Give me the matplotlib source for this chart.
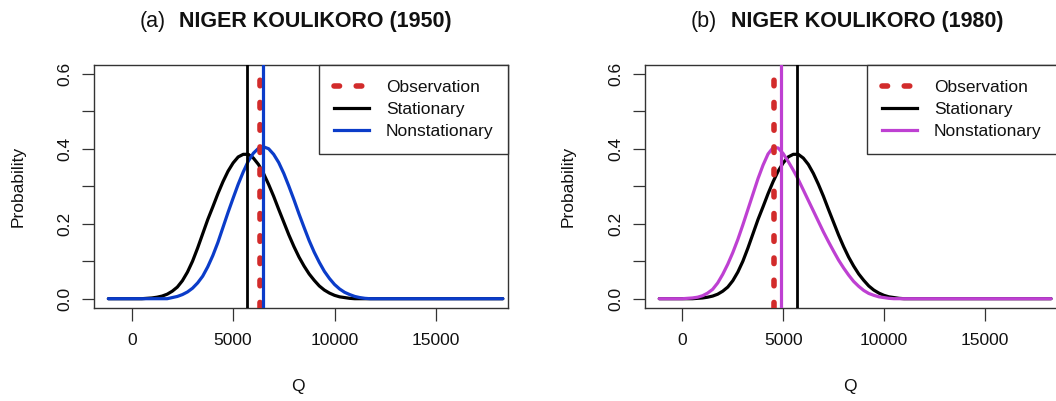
import matplotlib
matplotlib.use("Agg")
import matplotlib.pyplot as plt
from matplotlib.lines import Line2D

plt.rcParams['font.family'] = ['Liberation Sans', 'DejaVu Sans']

# ---------------- data ----------------
panel_titles = ["(a)", "(b)"]
panel_names = ["NIGER KOULIKORO (1950)", "NIGER KOULIKORO (1980)"]

# stationary distribution (same in both panels)
stat_q = [-1150, 500, 750, 1000, 1250, 1500, 1750, 2000, 2250, 2500, 2750, 3000, 3250, 3500, 3750,
          4000, 4250, 4500, 4750, 5000, 5250, 5500, 5750, 6000, 6250, 6500, 6750, 7000, 7250,
          7500, 7750, 8000, 8250, 8500, 8750, 9000, 9250, 9500, 9750, 10000, 10250, 10500,
          10750, 11000, 18300]
stat_p = [0, 0, 0.001, 0.002, 0.004, 0.007, 0.012, 0.020, 0.031, 0.048, 0.071, 0.100, 0.135, 0.173, 0.211,
          0.245, 0.280, 0.312, 0.340, 0.362, 0.378, 0.385, 0.385, 0.375, 0.358, 0.334, 0.305, 0.273, 0.238,
          0.204, 0.170, 0.139, 0.111, 0.087, 0.066, 0.049, 0.034, 0.023, 0.015, 0.009, 0.005, 0.003,
          0.001, 0, 0]

# nonstationary distribution, 1950
ns50_q = [-1150, 1750, 2000, 2250, 2500, 2750, 3000, 3250, 3500, 3750, 4000, 4250, 4500, 4750,
          5000, 5250, 5500, 5750, 6000, 6250, 6500, 6750, 7000, 7250, 7500, 7750, 8000, 8250,
          8500, 8750, 9000, 9250, 9500, 9750, 10000, 10250, 10500, 10750, 11000, 11250, 11500,
          11750, 18300]
ns50_p = [0, 0, 0.003, 0.006, 0.011, 0.018, 0.028, 0.042, 0.060, 0.085, 0.115, 0.150, 0.190, 0.230,
          0.268, 0.305, 0.338, 0.367, 0.388, 0.401, 0.405, 0.400, 0.385, 0.363, 0.334, 0.300, 0.264, 0.226,
          0.190, 0.155, 0.124, 0.097, 0.073, 0.054, 0.038, 0.026, 0.017, 0.011, 0.006, 0.003, 0.001,
          0, 0]

# nonstationary distribution, 1980
ns80_q = [-1150, 0, 250, 500, 750, 1000, 1250, 1500, 1750, 2000, 2250, 2500, 2750, 3000, 3250,
          3500, 3750, 4000, 4250, 4500, 4750, 5000, 5250, 5500, 5750, 6000, 6250, 6500, 6750,
          7000, 7250, 7500, 7750, 8000, 8250, 8500, 8750, 9000, 9250, 9500, 9750, 10000, 10250,
          10500, 18300]
ns80_p = [0, 0, 0.001, 0.002, 0.004, 0.008, 0.015, 0.025, 0.042, 0.065, 0.092, 0.123, 0.158, 0.197, 0.238,
          0.279, 0.320, 0.356, 0.386, 0.403, 0.402, 0.387, 0.366, 0.343, 0.318, 0.290, 0.262, 0.234, 0.206,
          0.178, 0.152, 0.127, 0.103, 0.082, 0.063, 0.046, 0.033, 0.022, 0.014, 0.009, 0.005, 0.003, 0.001,
          0, 0]

observation = [6330, 4550]
stationary_value = [5670, 5670]
nonstationary_value = [6460, 4880]

ns_q = [ns50_q, ns80_q]
ns_p = [ns50_p, ns80_p]
ns_colors = ["#0B3CC9", "#BE40D2"]
obs_color = "#D22B2B"

x_ticks = [0, 5000, 10000, 15000]
y_ticks = [0.0, 0.1, 0.2, 0.3, 0.4, 0.5, 0.6]
y_ticklabels = ["0.0", "", "0.2", "", "0.4", "", "0.6"]
legend_labels = ["Observation", "Stationary", "Nonstationary"]

# ---------------- figure ----------------
W, H = 1056, 401
fig = plt.figure(figsize=(W / 100, H / 100), dpi=100)

def fx(px):
    return px / W

def fy(py):
    return 1 - py / H

axes_px = [(94, 508.3), (645, 1056.5)]
top_px, bot_px = 64.7, 307.7
title_left = [(140, 179), (690.3, 730.7)]
ylab_x = [18.3, 568]
xlab_x = [298, 850]

text_col = "#111111"
spine_col = "#333333"

for i in range(2):
    l, r = axes_px[i]
    ax = fig.add_axes([fx(l), fy(bot_px), (r - l) / W, (bot_px - top_px) / H])

    ax.plot(stat_q, stat_p, color="black", lw=2.3, solid_capstyle="round",
            solid_joinstyle="round", zorder=2)
    ax.plot(ns_q[i], ns_p[i], color=ns_colors[i], lw=2.3, solid_capstyle="round",
            solid_joinstyle="round", zorder=3)
    ax.axvline(observation[i], color=obs_color, lw=4, linestyle=(0, (1.0, 3.0)),
               dash_capstyle="round", zorder=4)
    ax.axvline(stationary_value[i], color="black", lw=2.0, zorder=5)
    ax.axvline(nonstationary_value[i], color=ns_colors[i], lw=2.3, zorder=6)

    ax.set_xlim(-1859, 18570)
    ax.set_ylim(-0.024, 0.624)
    ax.set_xticks(x_ticks)
    ax.set_xticklabels([str(v) for v in x_ticks])
    ax.set_yticks(y_ticks)
    ax.set_yticklabels(y_ticklabels)
    ax.tick_params(axis="both", length=9, width=0.9, color=spine_col,
                   labelsize=12.5, labelcolor=text_col)
    ax.tick_params(axis="x", pad=9)
    ax.tick_params(axis="y", pad=6.5, labelrotation=90)
    for lab in ax.get_yticklabels():
        lab.set_va("center")
    for s in ax.spines.values():
        s.set_color(spine_col)
        s.set_linewidth(1.0)

    handles = [
        Line2D([], [], color=obs_color, lw=4, linestyle=(0, (1.0, 3.0)), dash_capstyle="round"),
        Line2D([], [], color="black", lw=2.3),
        Line2D([], [], color=ns_colors[i], lw=2.3),
    ]
    leg = ax.legend(handles, legend_labels, loc="upper right", bbox_to_anchor=(1, 1),
                    borderaxespad=0, fancybox=False, fontsize=12.5, handlelength=2.0,
                    handletextpad=0.98, borderpad=0.86, labelspacing=0.4, framealpha=1)
    leg.get_frame().set_edgecolor(spine_col)
    leg.get_frame().set_linewidth(1.0)
    for t in leg.get_texts():
        t.set_color(text_col)

    # titles
    fig.text(fx(title_left[i][0]), fy(27.5), panel_titles[i], fontsize=15.5,
             ha="left", va="baseline", color=text_col)
    fig.text(fx(title_left[i][1]), fy(27.5), panel_names[i], fontsize=15.5,
             fontweight="bold", ha="left", va="baseline", color=text_col)

    # axis labels
    fig.text(fx(xlab_x[i]), fy(386.7), "Q", fontsize=12.5,
             ha="center", va="center", color=text_col)
    fig.text(fx(ylab_x[i]), fy(186), "Probability", fontsize=12.5, rotation=90,
             ha="center", va="center", color=text_col)

fig.savefig("out.png", dpi=100)
